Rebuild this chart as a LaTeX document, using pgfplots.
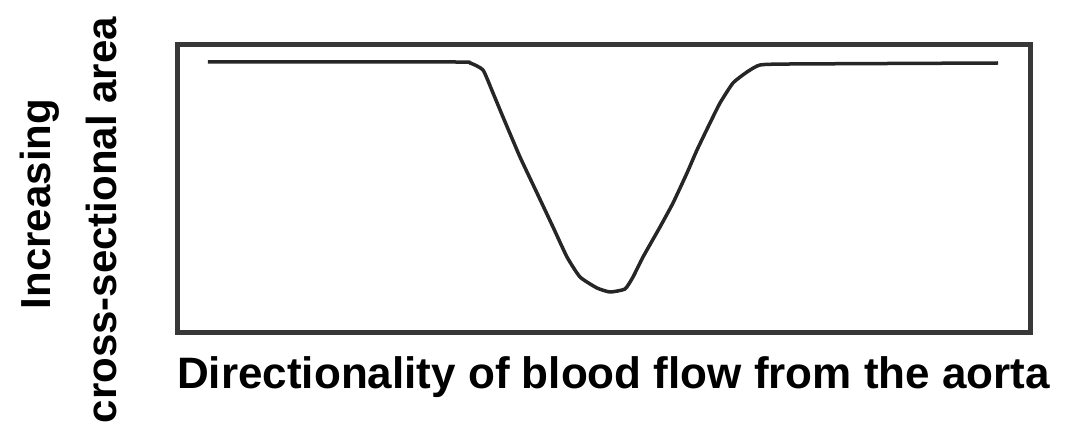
\documentclass[border=0pt]{standalone}
\usepackage{pgfplots}
\pgfplotsset{compat=1.18}
\usepackage{fontspec}
\setmainfont{Liberation Sans}
\begin{document}
\begin{tikzpicture}[x=1pt,y=1pt]
\begin{axis}[
  at={(0pt,0pt)}, anchor=south west,
  scale only axis, width=852pt, height=287pt,
  xmin=178, xmax=1030, ymin=45, ymax=332,
  y dir=reverse,
  ticks=none,
  axis line style={line width=5pt, black!78, line cap=rect},
  clip=false,
]
\addplot[line width=3.5pt, black!85, line join=round, smooth, tension=0.3] coordinates {
(208,62) (455,62) (470,63) (483,70) (493,93) (503,117) (520,157) (537,193) (553,227) (567,257)
(580,277) (597,288) (610,292) (625,289) (633,277) (643,257) (660,227) (673,203) (687,173)
(697,150) (710,123) (720,103) (733,83) (747,72) (760,65) (790,64) (998,63)
};
\node[font=\fontsize{44pt}{48pt}\selectfont\bfseries, anchor=base west, inner sep=0pt]
  at (axis cs:177,388) {Directionality of blood flow from the aorta};
\node[font=\fontsize{42pt}{46pt}\selectfont\bfseries, rotate=90, anchor=base, inner sep=0pt]
  at (axis cs:51,204) {Increasing};
\node[font=\fontsize{42pt}{46pt}\selectfont\bfseries, rotate=90, anchor=base, inner sep=0pt]
  at (axis cs:117,220) {cross-sectional area};
\end{axis}
\path (-178pt,-106pt) rectangle (896pt,332pt);
\end{tikzpicture}
\end{document}
